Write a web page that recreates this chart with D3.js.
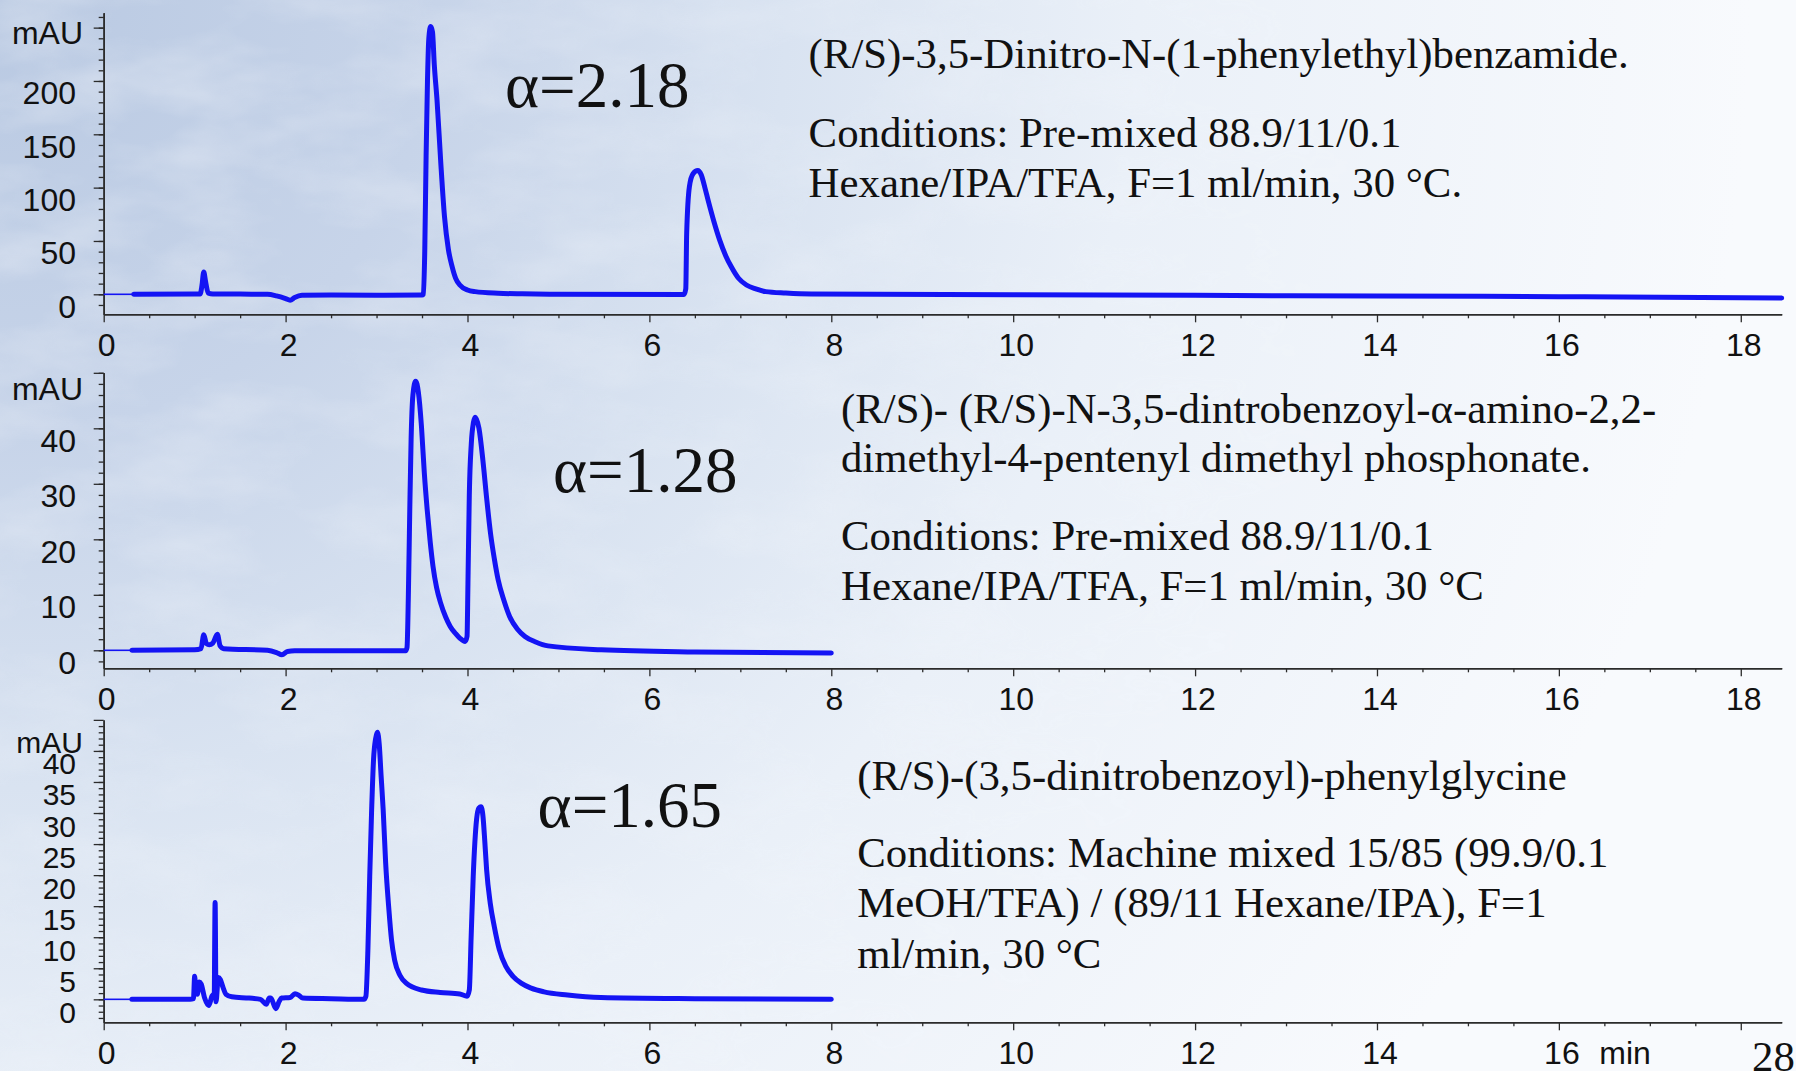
<!DOCTYPE html>
<html>
<head>
<meta charset="utf-8">
<script src="https://cdn.jsdelivr.net/npm/d3@7"></script>
<style>
  html, body { margin: 0; padding: 0; overflow: hidden; background: #f4f7fc; }
  svg { display: block; }
  .tick-label { font-family: "Liberation Sans", Arial, sans-serif; font-size: 32px; fill: #111; }
  .note { font-family: "Liberation Serif", "Times New Roman", serif; font-size: 42.8px; fill: #111; }
  .alpha { font-family: "Liberation Serif", "Times New Roman", serif; font-size: 65px; fill: #111; }
</style>
</head>
<body>
<svg id="chart" width="1796" height="1071"></svg>
<script>
// ---------- Data ----------
// Retention time axis (min)
const xMajorTicks = [0, 2, 4, 6, 8, 10, 12, 14, 16, 18];
const xTickLabelsTop = ["0", "2", "4", "6", "8", "10", "12", "14", "16", "18"];
const xTickLabelsBottom = ["0", "2", "4", "6", "8", "10", "12", "14", "16", ""];

// Chromatogram 1: (R/S)-3,5-Dinitro-N-(1-phenylethyl)benzamide
const timeA = [0.33, 1.00, 1.06, 1.08, 1.10, 1.12, 1.15, 1.20, 1.50, 1.80, 1.90, 2.00, 2.05, 2.10, 2.18, 2.50, 3.00, 3.50,
  3.515, 3.53, 3.545, 3.56, 3.575, 3.595, 3.615, 3.635, 3.665, 3.705, 3.747, 3.79, 3.831, 3.87, 3.916, 4.00, 4.085, 4.337, 4.60, 5.00, 6.38,
  6.40, 6.41, 6.44, 6.48, 6.532, 6.57, 6.61, 6.646, 6.71, 6.772, 6.84, 6.899, 6.98, 7.067, 7.17, 7.279, 7.50, 7.78, 8.50, 10.0, 12.0, 14.0, 16.0, 18.45];
const mAU_A = [0, 0.3, 0.3, 8, 21, 12, 1, 0.3, 0.2, 0, -1.5, -4, -5.5, -3, -1, -0.6, -0.8, -0.7,
  0, 40, 130, 200, 240, 251, 246, 215, 182, 125, 73, 42, 26, 15, 8.7, 4, 2.5, 1, 0.4, 0, -0.3,
  5, 57, 101, 113, 116, 112, 100, 88, 68, 51, 36, 26, 15, 8.7, 5, 2.5, 1.2, 0.3, 0, -0.5, -1, -1.6, -2.2, -3.5];

// Chromatogram 2: (R/S)-N-3,5-dinitrobenzoyl-α-amino phosphonate
const timeB = [0.31, 1.00, 1.07, 1.10, 1.13, 1.16, 1.20, 1.25, 1.28, 1.32, 1.80, 1.90, 1.96, 2.02, 2.10, 3.00, 3.32,
  3.335, 3.35, 3.365, 3.38, 3.40, 3.43, 3.46, 3.494, 3.525, 3.557, 3.59, 3.621, 3.66, 3.705, 3.76, 3.81, 3.87, 3.915, 3.975,
  3.995, 4.005, 4.02, 4.042, 4.065, 4.084, 4.126, 4.169, 4.21, 4.253, 4.295, 4.337, 4.40, 4.463, 4.55, 4.632, 4.75, 4.885, 5.47, 6.50, 8.00];
const mAU_B = [0, 0.1, 0.3, 2.8, 1.2, 1.0, 1.3, 2.9, 0.8, 0.3, 0, -0.4, -0.8, -0.2, -0.1, -0.1, -0.1,
  0.5, 10, 25, 38, 46, 48.5, 46.5, 40.3, 32, 25.3, 19.5, 15.1, 11.3, 8.5, 6, 4.3, 3, 2.2, 1.6,
  2.5, 12, 28, 37.3, 41, 42, 40, 34.3, 27.5, 21.1, 16.5, 12.7, 9, 6.1, 3.8, 2.5, 1.5, 0.8, 0.1, -0.3, -0.5];

// Chromatogram 3: (R/S)-(3,5-dinitrobenzoyl)-phenylglycine
const timeC = [0.31, 0.95, 0.987, 1.00, 1.015, 1.03, 1.05, 1.071, 1.11, 1.155, 1.19, 1.215, 1.225, 1.235, 1.26, 1.282, 1.31, 1.345, 1.408,
  1.60, 1.724, 1.787, 1.82, 1.838, 1.892, 1.93, 1.956, 2.05, 2.103, 2.15, 2.188, 2.50, 2.862,
  2.883, 2.905, 2.925, 2.945, 2.967, 2.99, 3.01, 3.03, 3.05, 3.073, 3.10, 3.136, 3.165, 3.199, 3.26, 3.326, 3.494, 3.70, 3.915, 3.995,
  4.02, 4.04, 4.063, 4.10, 4.125, 4.148, 4.17, 4.19, 4.21, 4.25, 4.295, 4.35, 4.422, 4.50, 4.59, 4.70, 4.842, 5.10, 5.466, 6.50, 8.00];
const mAU_C = [0, 0, 0.1, 3.7, 1.0, 0.8, 2.8, 2.5, 0.2, -1.0, 0.5, 1.0, 15.6, -0.4, 3.5, 3.2, 2.0, 0.8, 0.4,
  0.2, 0, -0.8, 0.2, 0.2, -1.5, -0.3, 0.2, 0.3, 0.9, 0.6, 0.2, 0.1, 0,
  0.5, 8, 19.8, 30, 38.6, 42, 43, 41, 36, 30.5, 22, 14.4, 9.5, 6.3, 3.8, 2.6, 1.5, 1.1, 0.86, 0.5,
  1.5, 10, 19.8, 29, 30.8, 31, 29.5, 25.5, 20.9, 15.5, 11.7, 8, 5.3, 3.7, 2.6, 1.8, 1.2, 0.7, 0.3, 0.1, 0];

// Y axis major ticks (mAU)
const yMajorA = [0, 50, 100, 150, 200, 250];
const yMajorB = [0, 10, 20, 30, 40, 50];
const yMajorC = [0, 5, 10, 15, 20, 25, 30, 35, 40, 45];

// Selectivity factors
const alphaLabels = ["α=2.18", "α=1.28", "α=1.65"];

// Compound and method notes
const notesA = [
  "(R/S)-3,5-Dinitro-N-(1-phenylethyl)benzamide.",
  "Conditions: Pre-mixed 88.9/11/0.1",
  "Hexane/IPA/TFA, F=1 ml/min, 30 °C."
];
const notesB = [
  "(R/S)- (R/S)-N-3,5-dintrobenzoyl-α-amino-2,2-",
  "dimethyl-4-pentenyl dimethyl phosphonate.",
  "Conditions: Pre-mixed 88.9/11/0.1",
  "Hexane/IPA/TFA, F=1 ml/min, 30 °C"
];
const notesC = [
  "(R/S)-(3,5-dinitrobenzoyl)-phenylglycine",
  "Conditions: Machine mixed 15/85 (99.9/0.1",
  "MeOH/TFA) / (89/11 Hexane/IPA), F=1",
  "ml/min, 30 °C"
];

// ---------- Layout ----------
const W = 1796, H = 1071;
const svg = d3.select("#chart");
const x = d3.scaleLinear().domain([0, 18.45]).range([103.7, 1781.7]);

const panels = [
  { time: timeA, signal: mAU_A, yMin: -18.75, yMax: 264, top: 12.7, bottom: 314.3,
    majors: yMajorA, minorStep: 10, unitDy: 20, yFont: 32,
    alpha: alphaLabels[0], alphaX: 505, alphaY: 107,
    notes: notesA, notesX: 808.6, notesY: [68, 146.7, 196.7], xLabels: xTickLabelsTop },
  { time: timeB, signal: mAU_B, yMin: -3.243, yMax: 50.02, top: 372.7, bottom: 668.3,
    majors: yMajorB, minorStep: 2, unitDy: 16, yFont: 32,
    alpha: alphaLabels[1], alphaX: 553, alphaY: 491.7,
    notes: notesB, notesX: 841, notesY: [423.3, 471.7, 550, 600], xLabels: xTickLabelsTop },
  { time: timeC, signal: mAU_C, yMin: -3.70, yMax: 44.98, top: 720, bottom: 1022.3,
    majors: yMajorC, minorStep: 1, unitDy: 22, yFont: 30,
    alpha: alphaLabels[2], alphaX: 537.6, alphaY: 827.3,
    notes: notesC, notesX: 857.2, notesY: [790, 866.7, 916.7, 968.3], xLabels: xTickLabelsBottom }
];

// ---------- Background ----------
const defs = svg.append("defs");
const bg = defs.append("radialGradient").attr("id", "bgGrad")
  .attr("gradientUnits", "userSpaceOnUse").attr("cx", 0).attr("cy", 0).attr("r", 1750);
[[0, "#b9c9e2"], [0.25, "#c7d4e9"], [0.45, "#d9e3f1"], [0.65, "#eaf0f8"], [1, "#f8fafd"]]
  .forEach(([o, c]) => bg.append("stop").attr("offset", o).attr("stop-color", c));

const mottle = defs.append("filter").attr("id", "mottle")
  .attr("x", 0).attr("y", 0).attr("width", "100%").attr("height", "100%");
mottle.append("feTurbulence").attr("type", "fractalNoise")
  .attr("baseFrequency", "0.008 0.018").attr("numOctaves", 4).attr("seed", 11);
mottle.append("feColorMatrix").attr("type", "matrix")
  .attr("values", "0 0 0 0 1  0 0 0 0 1  0 0 0 0 1  1.1 0 0 0 -0.42");

const fadeMask = defs.append("radialGradient").attr("id", "fadeGrad")
  .attr("gradientUnits", "userSpaceOnUse").attr("cx", 150).attr("cy", 150).attr("r", 1300);
[[0, "#fff", 1], [0.6, "#fff", 0.45], [1, "#fff", 0]]
  .forEach(([o, c, a]) => fadeMask.append("stop").attr("offset", o).attr("stop-color", c).attr("stop-opacity", a));
defs.append("mask").attr("id", "fade").append("rect")
  .attr("width", W).attr("height", H).attr("fill", "url(#fadeGrad)");

svg.append("rect").attr("width", W).attr("height", H).attr("fill", "url(#bgGrad)");
svg.append("rect").attr("width", W).attr("height", H)
  .attr("filter", "url(#mottle)").attr("mask", "url(#fade)").attr("opacity", 0.55);

// ---------- Panels ----------
const xMinor = d3.range(0, 18.45 + 1e-9, 0.5).filter(t => t % 2 !== 0);
const axisColor = "#2b2b2b";
const traceColor = "#1414f4";

panels.forEach(p => {
  const y = d3.scaleLinear().domain([p.yMin, p.yMax]).range([p.bottom, p.top]);
  const g = svg.append("g");

  // X axis: minor then major ticks
  const xMinorAxis = d3.axisBottom(x).tickValues(xMinor).tickSize(4).tickSizeOuter(0).tickFormat("");
  const xMajorAxis = d3.axisBottom(x).tickValues(xMajorTicks).tickSize(8).tickSizeOuter(0).tickFormat("");
  g.append("g").attr("transform", `translate(0,${p.bottom})`).call(xMinorAxis);
  g.append("g").attr("transform", `translate(0,${p.bottom})`).call(xMajorAxis);

  // Y axis: minor then major ticks
  const first = Math.ceil(p.yMin / p.minorStep) * p.minorStep;
  const yMinor = d3.range(first, p.yMax + 1e-9, p.minorStep);
  const yMinorAxis = d3.axisLeft(y).tickValues(yMinor).tickSize(5).tickSizeOuter(0).tickFormat("");
  const yMajorAxis = d3.axisLeft(y).tickValues(p.majors).tickSize(10).tickSizeOuter(0).tickFormat("");
  g.append("g").attr("transform", `translate(${x(0)},0)`).call(yMinorAxis);
  g.append("g").attr("transform", `translate(${x(0)},0)`).call(yMajorAxis);

  g.selectAll(".domain").attr("stroke", axisColor).attr("stroke-width", 1.6);
  g.selectAll(".tick line").attr("stroke", axisColor).attr("stroke-width", 1.3);

  // X tick labels
  g.selectAll(".xlab").data(xMajorTicks).join("text")
    .attr("class", "tick-label")
    .attr("x", d => x(d) + 3)
    .attr("y", p.bottom + 42)
    .attr("text-anchor", "middle")
    .text((d, i) => p.xLabels[i]);

  // Y tick labels (top major replaced by the unit)
  const labelled = p.majors.slice(0, -1);
  g.selectAll(".ylab").data(labelled).join("text")
    .attr("class", "tick-label")
    .style("font-size", p.yFont + "px")
    .attr("x", 76)
    .attr("y", d => y(d) + 23.5)
    .attr("text-anchor", "end")
    .text(d => d);
  g.append("text").attr("class", "tick-label")
    .style("font-size", p.yFont + "px")
    .attr("x", 83).attr("y", p.top + p.unitDy + 11)
    .attr("text-anchor", "end").text("mAU");

  // Signal trace
  const pts = d3.zip(p.time, p.signal);
  g.append("line")
    .attr("x1", x(0)).attr("x2", x(p.time[0]))
    .attr("y1", y(p.signal[0])).attr("y2", y(p.signal[0]))
    .attr("stroke", traceColor).attr("stroke-width", 1.6);
  const line = d3.line().x(d => x(d[0])).y(d => y(d[1])).curve(d3.curveMonotoneX);
  g.append("path").datum(pts)
    .attr("d", line)
    .attr("fill", "none")
    .attr("stroke", traceColor)
    .attr("stroke-width", 5)
    .attr("stroke-linejoin", "round")
    .attr("stroke-linecap", "round");

  // Selectivity label
  g.append("text").attr("class", "alpha")
    .attr("x", p.alphaX).attr("y", p.alphaY).text(p.alpha);

  // Notes
  g.selectAll(".note").data(p.notes).join("text")
    .attr("class", "note")
    .attr("x", p.notesX)
    .attr("y", (d, i) => p.notesY[i])
    .text(d => d);
});

// Time unit on the bottom axis and slide number
svg.append("text").attr("class", "tick-label")
  .attr("x", 1625).attr("y", 1064).attr("text-anchor", "middle").text("min");
svg.append("text").attr("class", "note")
  .attr("x", 1752).attr("y", 1071).text("28");
</script>
</body>
</html>
